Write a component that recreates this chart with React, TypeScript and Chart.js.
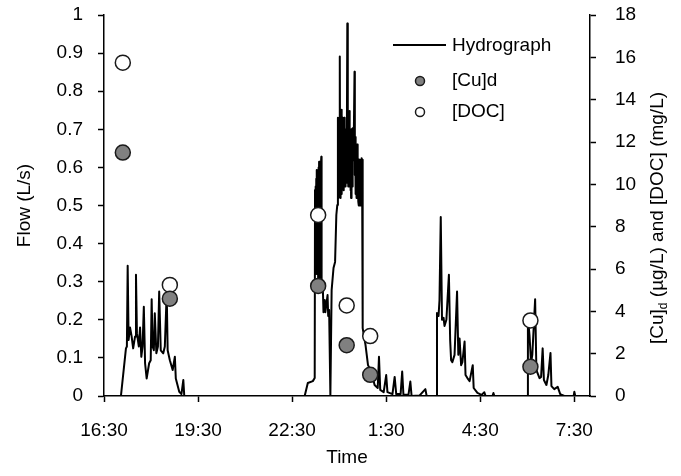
import React, { useEffect, useRef } from "react";
import { Chart, registerables } from "chart.js";

Chart.register(...registerables);

const FONT = "'Liberation Sans', Arial, Helvetica, sans-serif";

// Hydrograph [time (h since midnight of day 1; 24+ = next day), flow (L/s)], one array per storm
const hydroEvent1: [number, number][] = [
  [16.5, 0], [17.04, 0], [17.2, 0.125], [17.23, 0.13], [17.255, 0.342], [17.285, 0.147], [17.33, 0.18],
  [17.38, 0.157], [17.43, 0.125], [17.49, 0.156], [17.52, 0.318], [17.55, 0.165], [17.61, 0.13],
  [17.65, 0.18], [17.69, 0.103], [17.73, 0.13], [17.77, 0.234], [17.81, 0.086], [17.86, 0.046],
  [17.94, 0.086], [17.99, 0.094], [18.02, 0.254], [18.05, 0.13], [18.09, 0.12], [18.12, 0.217],
  [18.17, 0.112], [18.22, 0.13], [18.26, 0.274], [18.31, 0.12], [18.39, 0.112], [18.44, 0.13],
  [18.5, 0.27], [18.53, 0.12], [18.6, 0.094], [18.69, 0.068], [18.76, 0.103], [18.79, 0.046],
  [18.9, 0.011], [18.97, 0.005], [19.03, 0.042], [19.06, 0],
];
const hydroEvent2: [number, number][] = [
  [22.9, 0], [23.0, 0.034], [23.16, 0.039], [23.22, 0.047], [23.23, 0.541], [23.24, 0.36], [23.25, 0.55],
  [23.26, 0.34], [23.27, 0.57], [23.28, 0.593], [23.29, 0.32], [23.3, 0.58], [23.31, 0.35], [23.32, 0.59],
  [23.33, 0.3], [23.34, 0.6], [23.35, 0.33], [23.36, 0.615], [23.37, 0.31], [23.38, 0.6], [23.39, 0.34],
  [23.4, 0.61], [23.41, 0.3], [23.42, 0.59], [23.43, 0.628], [23.44, 0.3], [23.46, 0.29], [23.48, 0.283],
  [23.5, 0.22], [23.54, 0.252], [23.56, 0.22], [23.59, 0.239], [23.63, 0.265], [23.65, 0.21],
  [23.68, 0.226], [23.72, 0], [23.76, 0.278], [23.82, 0.336], [23.87, 0.352], [23.91, 0.475],
  [23.94, 0.501], [23.96, 0.73], [23.97, 0.52], [23.98, 0.7], [24.0, 0.55], [24.02, 0.891], [24.03, 0.56],
  [24.04, 0.72], [24.05, 0.52], [24.06, 0.74], [24.07, 0.55], [24.08, 0.751], [24.09, 0.53], [24.1, 0.7],
  [24.11, 0.55], [24.12, 0.73], [24.13, 0.56], [24.14, 0.7], [24.15, 0.54], [24.16, 0.73], [24.17, 0.58],
  [24.18, 0.71], [24.19, 0.55], [24.2, 0.68], [24.21, 0.58], [24.23, 0.7], [24.24, 0.56], [24.26, 0.978],
  [24.27, 0.6], [24.28, 0.72], [24.29, 0.55], [24.3, 0.698], [24.31, 0.56], [24.32, 0.72], [24.33, 0.748],
  [24.34, 0.55], [24.35, 0.7], [24.36, 0.54], [24.37, 0.68], [24.38, 0.52], [24.39, 0.562], [24.4, 0.7],
  [24.41, 0.55], [24.42, 0.703], [24.43, 0.55], [24.44, 0.68], [24.45, 0.619], [24.47, 0.7],
  [24.49, 0.851], [24.5, 0.58], [24.51, 0.68], [24.52, 0.53], [24.53, 0.66], [24.54, 0.567], [24.55, 0.64],
  [24.56, 0.52], [24.57, 0.66], [24.58, 0.55], [24.59, 0.64], [24.6, 0.624], [24.61, 0.51], [24.62, 0.62],
  [24.63, 0.5], [24.64, 0.62], [24.65, 0.501], [24.66, 0.62], [24.67, 0.5], [24.68, 0.6], [24.69, 0.51],
  [24.7, 0.62], [24.71, 0.624], [24.72, 0.5], [24.73, 0.62], [24.74, 0.5], [24.75, 0.501], [24.76, 0.178],
  [24.84, 0.134], [24.92, 0.081], [25.03, 0.064], [25.13, 0.029], [25.23, 0.021], [25.27, 0.103],
  [25.31, 0.016], [25.42, 0.01], [25.5, 0.055], [25.54, 0.01], [25.7, 0.005], [25.77, 0.05], [25.82, 0.005],
  [25.96, 0.005], [26.01, 0.064], [26.05, 0.003], [26.21, 0.003], [26.27, 0.038], [26.31, 0],
  [26.56, 0.001], [26.75, 0.018], [26.79, 0],
];
const hydroEvent3: [number, number][] = [
  [27.1, 0], [27.12, 0.218], [27.17, 0.21], [27.2, 0.252], [27.24, 0.47], [27.28, 0.2], [27.33, 0.205],
  [27.36, 0.184], [27.42, 0.2], [27.5, 0.318], [27.54, 0.147], [27.57, 0.094], [27.61, 0.089],
  [27.68, 0.108], [27.76, 0.274], [27.8, 0.108], [27.84, 0.151], [27.89, 0.081], [27.93, 0.089],
  [28.0, 0.143], [28.03, 0.055], [28.09, 0.047], [28.16, 0.039], [28.26, 0.081], [28.29, 0.021],
  [28.41, 0.008], [28.54, 0.003], [28.63, 0.01], [28.67, 0], [28.89, 0], [28.92, 0.008], [28.95, 0],
];
const hydroEvent4: [number, number][] = [
  [30.0, 0], [30.02, 0.207], [30.07, 0.16], [30.12, 0.087], [30.16, 0.108], [30.25, 0.254], [30.29, 0.068],
  [30.39, 0.047], [30.44, 0.05], [30.49, 0.125], [30.53, 0.042], [30.61, 0.029], [30.67, 0.055],
  [30.74, 0.113], [30.77, 0.026], [30.86, 0.018], [30.97, 0.024], [31.05, 0.005], [31.18, 0], [31.48, 0],
  [31.5, 0.011], [31.53, 0], [32.0, 0],
];

// Samples (right axis)
const sampleTime = [17.1, 18.6, 23.33, 24.24, 24.99, 30.1];
const cuValues = [11.5, 4.6, 5.2, 2.4, 1.0, 1.38];
const docValues = [15.75, 5.25, 8.55, 4.28, 2.83, 3.57];

const xTickValues = [16.5, 19.5, 22.5, 25.5, 28.5, 31.5];
const xTickLabels = ["16:30", "19:30", "22:30", "1:30", "4:30", "7:30"];
const seriesNames = ["Hydrograph", "[Cu]d", "[DOC]"];
const leftTitle = "Flow (L/s)";
const bottomTitle = "Time";

const CU_FILL = "#808080";
const EDGE = "#1a1a1a";

const overlayPlugin = {
  id: "overlay",
  afterDraw(chart: any) {
    const { ctx, chartArea } = chart;
    const ca = chartArea;
    ctx.save();
    // Legend
    const lx = ca.left + 289;
    const tx = ca.left + 348;
    const rows = [ca.top + 31, ca.top + 66, ca.top + 97];
    ctx.font = `19px ${FONT}`;
    ctx.fillStyle = "#000";
    ctx.textAlign = "left";
    ctx.textBaseline = "middle";
    ctx.strokeStyle = "#000";
    ctx.lineWidth = 2;
    ctx.beginPath();
    ctx.moveTo(lx, rows[0] - 1);
    ctx.lineTo(lx + 53, rows[0] - 1);
    ctx.stroke();
    ctx.fillText(seriesNames[0], tx, rows[0]);
    const fills = [CU_FILL, "#ffffff"];
    for (let i = 0; i < 2; i++) {
      ctx.beginPath();
      ctx.arc(lx + 27, rows[i + 1], 4.5, 0, Math.PI * 2);
      ctx.fillStyle = fills[i];
      ctx.fill();
      ctx.lineWidth = 1.5;
      ctx.strokeStyle = EDGE;
      ctx.stroke();
      ctx.fillStyle = "#000";
      ctx.fillText(seriesNames[i + 1], tx, rows[i + 1]);
    }
    // Right axis title with subscript
    ctx.translate(ca.right + 73, ca.bottom - 52);
    ctx.rotate(-Math.PI / 2);
    ctx.textBaseline = "alphabetic";
    ctx.font = `19px ${FONT}`;
    let x = 0;
    ctx.fillText("[Cu]", x, 0);
    x += ctx.measureText("[Cu]").width;
    ctx.font = `12px ${FONT}`;
    ctx.fillText("d", x, 4);
    x += ctx.measureText("d").width;
    ctx.font = `19px ${FONT}`;
    ctx.fillText(" (\u00b5g/L) and [DOC] (mg/L)", x, 0);
    ctx.restore();
  },
};

export default function App() {
  const ref = useRef<HTMLCanvasElement | null>(null);
  useEffect(() => {
    if (!ref.current) return;
    const hydro = [...hydroEvent1, ...hydroEvent2, ...hydroEvent3, ...hydroEvent4];
    const axisCommon = {
      grid: {
        display: true,
        drawOnChartArea: false,
        drawTicks: true,
        tickLength: 6,
        tickColor: "#000",
        tickWidth: 1.5,
      },
      border: { display: true, color: "#000", width: 1.5 },
    };
    const fitV = (w: number) => (s: any) => {
      s.width = w;
      s.paddingTop = 0;
      s.paddingBottom = 0;
    };
    const chart = new Chart(ref.current, {
      type: "scatter",
      data: {
        datasets: [
          {
            label: seriesNames[0],
            data: hydro.map(([t, q]) => ({ x: t, y: q })),
            showLine: true,
            borderColor: "#000",
            borderWidth: 2,
            borderJoinStyle: "round",
            pointRadius: 0,
            tension: 0,
            yAxisID: "y",
            order: 3,
          },
          {
            label: seriesNames[1],
            data: sampleTime.map((t, i) => ({ x: t, y: cuValues[i] })),
            backgroundColor: CU_FILL,
            borderColor: EDGE,
            pointRadius: 7.5,
            pointBorderWidth: 1.5,
            yAxisID: "y1",
            order: 1,
          },
          {
            label: seriesNames[2],
            data: sampleTime.map((t, i) => ({ x: t, y: docValues[i] })),
            backgroundColor: "#ffffff",
            borderColor: EDGE,
            pointRadius: 7.5,
            pointBorderWidth: 1.5,
            yAxisID: "y1",
            order: 2,
          },
        ],
      },
      options: {
        responsive: false,
        animation: false,
        layout: { padding: { top: 15, left: 0, right: 0, bottom: 0 } },
        plugins: { legend: { display: false }, tooltip: { enabled: false } },
        scales: {
          x: {
            type: "linear",
            min: 16.5,
            max: 32,
            ...axisCommon,
            afterBuildTicks: (s: any) => {
              s.ticks = xTickValues.map((v) => ({ value: v }));
            },
            afterFit: (s: any) => {
              s.height = 80;
              s.paddingLeft = 0;
              s.paddingRight = 0;
            },
            ticks: {
              padding: 17,
              color: "#000",
              font: { family: FONT, size: 19 },
              maxRotation: 0,
              autoSkip: false,
              callback: (_v: any, i: number) => xTickLabels[i],
            },
            title: {
              display: true,
              text: bottomTitle,
              color: "#000",
              font: { family: FONT, size: 19 },
              padding: { top: 0, bottom: 7 },
            },
          },
          y: {
            type: "linear",
            position: "left",
            min: 0,
            max: 1,
            ...axisCommon,
            afterFit: fitV(104),
            ticks: {
              stepSize: 0.1,
              padding: 15,
              color: "#000",
              font: { family: FONT, size: 19 },
              callback: (v: any) => String(Number(Number(v).toFixed(1))),
            },
            title: {
              display: true,
              text: leftTitle,
              color: "#000",
              font: { family: FONT, size: 19 },
              padding: { top: 13, bottom: 0 },
            },
          },
          y1: {
            type: "linear",
            position: "right",
            min: 0,
            max: 18,
            ...axisCommon,
            afterFit: fitV(91),
            ticks: {
              stepSize: 2,
              padding: 19,
              color: "#000",
              font: { family: FONT, size: 19 },
            },
          },
        },
      },
      plugins: [overlayPlugin],
    } as any);
    return () => chart.destroy();
  }, []);
  return (
    <div style={{ position: "absolute", left: 0, top: 0, width: 681, height: 476, background: "#fff" }}>
      <canvas ref={ref} width={681} height={476} />
    </div>
  );
}
